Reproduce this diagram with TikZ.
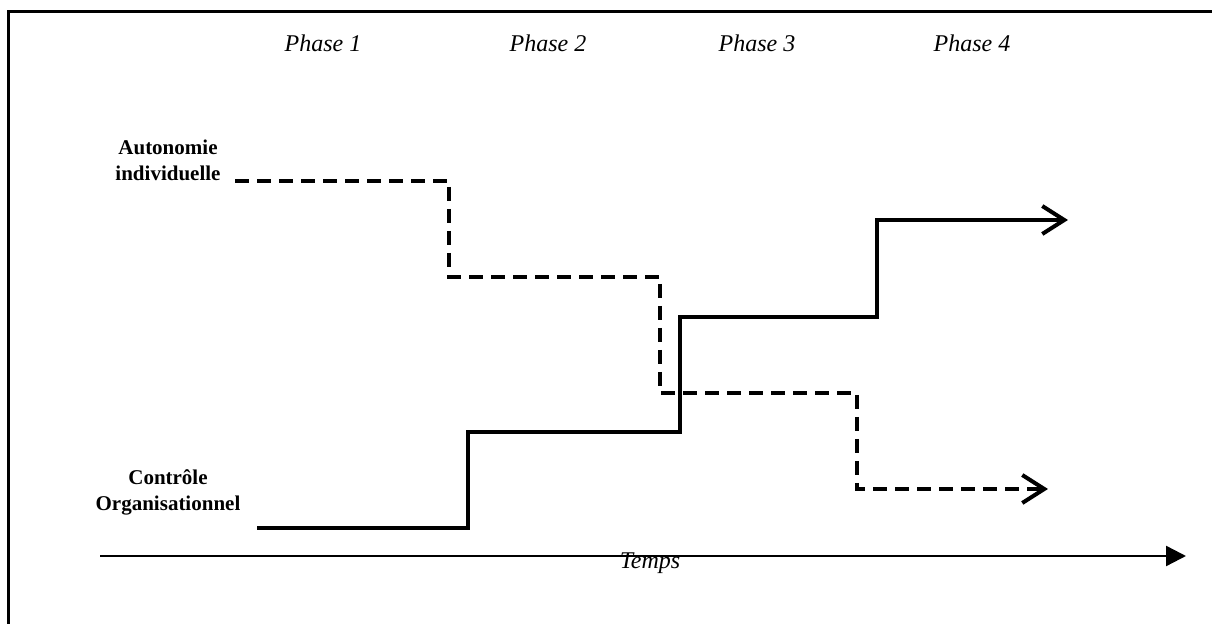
\documentclass[tikz,border=0pt]{standalone}
\usepackage{fontspec}
\setmainfont{Liberation Serif}
\usetikzlibrary{arrows.meta}

\tikzset{
    phase/.style={font=\itshape\fontsize{12}{14}\selectfont},
    axislabel/.style={font=\bfseries\fontsize{10.5}{13}\selectfont, align=center},
    autonomy/.style={line width=2pt, dash pattern=on 7pt off 4pt},
    control/.style={line width=2pt},
    openhead/.style={-{Straight Barb[length=11pt, width=14pt]}},
}

\begin{document}
\begin{tikzpicture}[x=0.5pt, y=-0.5pt]
    \useasboundingbox (0,0) rectangle (1212,624);

    % Frame
    \draw[line width=1.5pt] (8,640) -- (8,12) -- (1220,12);

    % Phases
    \node[phase] (p1) at (323,43) {Phase 1};
    \node[phase] (p2) at (548,43) {Phase 2};
    \node[phase] (p3) at (757,43) {Phase 3};
    \node[phase] (p4) at (972,43) {Phase 4};

    % Labels
    \node[axislabel] (auto) at (168,160) {Autonomie\\individuelle};
    \node[axislabel] (ctrl) at (168,492) {Contrôle\\Organisationnel};

    % Time axis
    \coordinate (t0) at (100,556);
    \coordinate (t1) at (1186,556);
    \draw[line width=1.2pt, -{Triangle[length=10pt, width=10pt]}] (t0) -- (t1);
    \node[phase] (temps) at (650,563) {Temps};

    % Autonomie individuelle
    \coordinate (a0) at (235,181);
    \coordinate (a1) at (449,181);
    \coordinate (a2) at (449,277);
    \coordinate (a3) at (660,277);
    \coordinate (a4) at (660,393);
    \coordinate (a5) at (857,393);
    \coordinate (a6) at (857,489);
    \coordinate (a7) at (1048,489);
    \draw[autonomy, openhead]
        (a0) -- (a1) -- (a2) -- (a3) -- (a4) -- (a5) -- (a6) -- (a7);

    % Controle organisationnel
    \coordinate (c0) at (257,528);
    \coordinate (c1) at (468,528);
    \coordinate (c2) at (468,432);
    \coordinate (c3) at (680,432);
    \coordinate (c4) at (680,317);
    \coordinate (c5) at (877,317);
    \coordinate (c6) at (877,220);
    \coordinate (c7) at (1068,220);
    \draw[control, openhead]
        (c0) -- (c1) -- (c2) -- (c3) -- (c4) -- (c5) -- (c6) -- (c7);

\end{tikzpicture}
\end{document}
